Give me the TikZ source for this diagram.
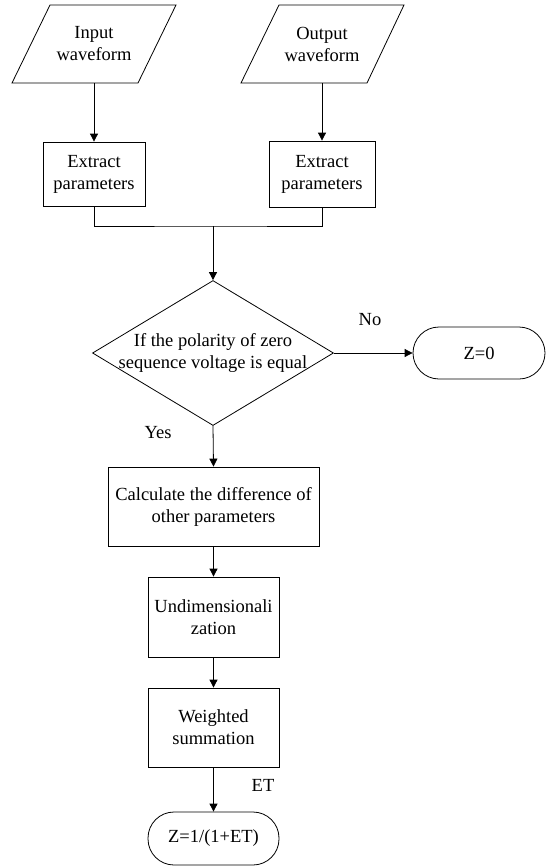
\documentclass[tikz,border=0pt]{standalone}
\usepackage{fontspec}
\setmainfont{Liberation Serif}
\usetikzlibrary{arrows.meta,shapes.geometric}
\begin{document}
\begin{tikzpicture}[x=1pt,y=-1pt,
  every node/.style={font=\fontsize{18.5}{22}\selectfont,align=center,inner sep=0pt},
  box/.style={draw,line width=0.8pt},
  term/.style={draw,line width=0.8pt,rounded corners=26pt},
  conn/.style={line width=0.8pt,-{Triangle[length=8pt,width=8pt]}},
  plain/.style={line width=0.8pt}]
\useasboundingbox (0,0) rectangle (546,867);
% parallelograms
\draw[plain] (50,5) -- (176,5) -- (138,83) -- (12,83) -- cycle;
\draw[plain] (279,5) -- (404,5) -- (367,83) -- (241,83) -- cycle;
\node[minimum width=80pt,minimum height=78pt] (in) at (94,44) {Input\\waveform};
\node[minimum width=80pt,minimum height=78pt] (out) at (322,44) {Output\\waveform};
% extract boxes
\node[box,minimum width=102pt,minimum height=64pt] (ex1) at (94,174) {Extract\\parameters};
\node[box,minimum width=106pt,minimum height=66pt] (ex2) at (322,174) {Extract\\parameters};
\coordinate (join) at (213,226);
% decision
\node[draw,diamond,line width=0.8pt,minimum width=241pt,minimum height=145pt,
  label={[font=\fontsize{18.5}{22}\selectfont,align=center]center:If the polarity of zero\\sequence voltage is equal}] (dec) at (213,353) {};
\node[term,minimum width=132pt,minimum height=52pt] (z0) at (479,353) {Z=0};
% chain
\node[box,minimum width=211pt,minimum height=79pt] (calc) at (213.5,506.5) {Calculate the difference of\\other parameters};
\node[box,minimum width=131pt,minimum height=80pt] (und) at (213.5,617) {Undimensionali\\zation};
\node[box,minimum width=131pt,minimum height=79pt] (wsum) at (213.5,727.5) {Weighted\\summation};
\node[term,minimum width=131pt,minimum height=53pt] (fin) at (213.5,838.5) {Z=1/(1+ET)};
% connectors
\draw[conn] (in.south) -- (ex1.north);
\draw[conn] (out.south) -- (ex2.north);
\draw[plain] (ex1.south) |- (join) -| (ex2.south);
\draw[conn] (join) -- (dec.north);
\draw[conn] (dec.east) -- (z0.west);
\draw[conn] (dec.south) -- (calc.north);
\draw[conn] (calc.south) -- (und.north);
\draw[conn] (und.south) -- (wsum.north);
\draw[conn] (wsum.south) -- (fin.north);
% labels
\node (no) at (370,320) {No};
\node (yes) at (158,433) {Yes};
\node (et) at (263,785) {ET};
\end{tikzpicture}
\end{document}
